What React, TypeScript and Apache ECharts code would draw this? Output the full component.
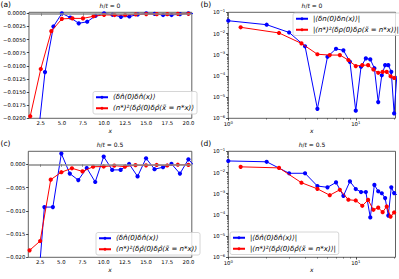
import React, { useEffect, useRef } from 'react';
import * as echarts from 'echarts';

// ---- data ----
const xSites = [1, 2, 3, 4, 5, 6, 7, 8, 9, 10, 11, 12, 13, 14, 15, 16, 17, 18, 19, 20, 21];
const xScaled = [1.25, 2.5, 3.75, 5, 6.25, 7.5, 8.75, 10, 11.25, 12.5, 13.75, 15, 16.25, 17.5, 18.75, 20];

// h/t = 0
const blueH0 = [-0.04, -0.026, -0.0112, -0.0025, -2.8e-6, -8e-4, -0.0019, -0.0016, -4.6e-4, -2.3e-6, -2.7e-4,
  -6.7e-4, -6.0e-4, -2.3e-4, -5.8e-6, -1.07e-4, -3.2e-4, -3.2e-4, -1.55e-4, -1.7e-6, -1.0e-4];
const redH0 = [-0.0196, -0.0106, -0.0034, -0.00105, -9.6e-4, -9.6e-4, -5.6e-4, -2.9e-4, -3.2e-4, -3.2e-4,
  -2.0e-4, -1.4e-4, -1.55e-4, -1.55e-4, -9.6e-5, -8e-5];

// h/t = 0.5
const blueH05 = [-0.035, -0.032, -0.0092, -0.0092, 0.0023, -0.002, -0.0034, -7.9e-4, -0.0038, 0.00166, -0.0012,
  -0.0012, 7.6e-5, -0.0026, 0.0013, -0.00105, -6.2e-4, 9.3e-5, -0.002, 0.00107, -0.0009];
const redH05 = [-0.0185, -0.0165, -0.0033, -0.0017, -8.5e-4, -0.00153, -5.2e-4, -4.8e-4, -2.7e-4, -5.1e-4,
  -1.74e-4, -2.2e-4, -1.35e-4, -2.5e-4, -8.3e-5, -1.3e-4];

// ticks
const linXTicks = [2.5, 5, 7.5, 10, 12.5, 15, 17.5, 20];
const yTicksA = [-0.02, -0.0175, -0.015, -0.0125, -0.01, -0.0075, -0.005, -0.0025, 0];
const yTicksC = [-0.02, -0.015, -0.01, -0.005, 0];
const logXTicks = [1, 10];
const logXMinor = [2, 3, 4, 5, 6, 7, 8, 9, 20];
const logYTicks = [1e-6, 1e-5, 1e-4, 1e-3, 1e-2, 1e-1];
const logYMinor: number[] = [];
for (let e = -6; e < -1; e++) for (let s = 2; s <= 9; s++) logYMinor.push(s * Math.pow(10, e));

const nameA1 = '⟨δn̂(0)δn̂(x)⟩';
const nameA2 = '(n*)²⟨δρ̂(0)δρ̂(x̃ = n*x)⟩';
const nameB1 = '|⟨δn(0)δn(x)⟩|';
const nameB2 = '|(n*)²⟨δρ(0)δρ(x̃ = n*x)⟩|';
const nameD1 = '|⟨δn̂(0)δn̂(x)⟩|';
const nameD2 = '|(n*)²⟨δρ̂(0)δρ̂(x̃ = n*x)⟩|';

const FONT = 'DejaVu Sans';
const BLUE = '#0000ff';
const RED = '#ff0000';
const TICK_FS = 5.3;

const GRIDS = [
  { left: 28.3, top: 12.3, width: 163.5, height: 106 },
  { left: 228.3, top: 12.3, width: 167.2, height: 106 },
  { left: 28.3, top: 151.3, width: 163.5, height: 106 },
  { left: 228.3, top: 151.3, width: 167.2, height: 106 },
];

const fmt = (v: number, d: number) => (v < -1e-12 ? '−' : '') + Math.abs(v).toFixed(d);
const pairs = (xs: number[], ys: number[], f: (v: number) => number = (v) => v) =>
  xs.map((x, i) => [x, f(ys[i])]);
const logLabel = (v: number) => {
  const e = Math.round(Math.log10(v));
  return '{b|10}{s|' + (e < 0 ? '−' : '') + Math.abs(e) + '}';
};
const logRich = {
  b: { fontSize: TICK_FS, fontFamily: FONT, color: '#000', lineHeight: 8 },
  s: { fontSize: 3.8, fontFamily: FONT, color: '#000', lineHeight: 4, verticalAlign: 'top' as const },
};

function linX(gridIndex: number) {
  return {
    type: 'value', gridIndex, min: 1.1, max: 20.4,
    name: 'x', nameLocation: 'middle', nameGap: 9,
    nameTextStyle: { fontSize: 6, fontStyle: 'italic', fontFamily: FONT, color: '#000' },
    axisLine: { show: false },
    splitLine: { show: false },
    axisTick: { show: true, length: 2.2, customValues: linXTicks, lineStyle: { color: '#000', width: 0.7 } },
    axisLabel: { customValues: linXTicks, formatter: (v: number) => v.toFixed(1), fontSize: TICK_FS, fontFamily: FONT, color: '#000', margin: 2.5 },
  };
}
function linY(gridIndex: number, min: number, max: number, ticks: number[], d: number) {
  return {
    type: 'value', gridIndex, min, max,
    axisLine: { show: false },
    splitLine: { show: false },
    axisTick: { show: true, length: 2.2, customValues: ticks, lineStyle: { color: '#000', width: 0.7 } },
    axisLabel: { customValues: ticks, formatter: (v: number) => fmt(v, d), fontSize: TICK_FS, fontFamily: FONT, color: '#000', margin: 3 },
  };
}
function logX(gridIndex: number, minor: boolean) {
  return {
    type: 'log', logBase: 10, gridIndex, min: 1, max: 20.5, position: 'bottom',
    name: minor ? '' : 'x', nameLocation: 'middle', nameGap: 9,
    nameTextStyle: { fontSize: 6, fontStyle: 'italic', fontFamily: FONT, color: '#000' },
    axisLine: { show: false },
    splitLine: { show: false },
    axisTick: { show: true, length: minor ? 1.3 : 2.2, customValues: minor ? logXMinor : logXTicks, lineStyle: { color: '#000', width: minor ? 0.5 : 0.7 } },
    axisLabel: minor ? { show: false } : { customValues: logXTicks, formatter: logLabel, rich: logRich, margin: 2 },
  };
}
function logY(gridIndex: number, minor: boolean) {
  return {
    type: 'log', logBase: 10, gridIndex, min: 1e-6, max: 1e-1, position: 'left',
    axisLine: { show: false },
    splitLine: { show: false },
    axisTick: { show: true, length: minor ? 1.3 : 2.2, customValues: minor ? logYMinor : logYTicks, lineStyle: { color: '#000', width: minor ? 0.5 : 0.7 } },
    axisLabel: minor ? { show: false } : { customValues: logYTicks, formatter: logLabel, rich: logRich, margin: 3 },
  };
}

function lineSeries(name: string, color: string, xi: number, yi: number, data: number[][], z: number, zeroLine = false) {
  const s: any = {
    type: 'line', name, xAxisIndex: xi, yAxisIndex: yi, data,
    symbol: 'circle', symbolSize: 4.2, showSymbol: true,
    lineStyle: { color, width: 1 }, itemStyle: { color },
    z, clip: true, animation: false,
  };
  if (zeroLine) {
    s.markLine = {
      silent: true, symbol: 'none', label: { show: false }, animation: false,
      lineStyle: { color: '#8c8c8c', width: 1.6, type: 'solid' },
      data: [{ yAxis: 0 }],
    };
  }
  return s;
}

function legendAt(left: number, top: number, names: string[]) {
  return {
    data: names, left, top, orient: 'vertical',
    itemWidth: 12, itemHeight: 3.6, itemGap: 3.5,
    padding: [2, 3, 2, 2],
    borderColor: '#cccccc', borderWidth: 0.8, borderRadius: 2,
    backgroundColor: 'rgba(255,255,255,0.8)',
    selectedMode: false,
    textStyle: { fontSize: 7, fontFamily: FONT, fontStyle: 'italic', color: '#000', lineHeight: 7.5 },
  };
}

function titleAt(text: string, left: number, top: number, size: number, center: boolean) {
  return {
    text, left, top, textAlign: center ? 'center' : 'left', padding: 0,
    textStyle: {
      fontSize: size, fontWeight: 'normal', fontFamily: FONT, color: '#000',
      rich: { i: { fontSize: size, fontStyle: 'italic', fontFamily: FONT, color: '#000' } },
    },
  };
}

export default function App() {
  const ref = useRef<HTMLDivElement>(null);
  useEffect(() => {
    if (!ref.current) return;
    const chart = echarts.init(ref.current, undefined, { renderer: 'svg' });
    const abs = (v: number) => Math.abs(v);
    chart.setOption({
      animation: false,
      backgroundColor: '#ffffff',
      title: [
        titleAt('(a)', 0.5, 0, 7.5, false),
        titleAt('(b)', 200.5, 0, 7.5, false),
        titleAt('(c)', 0.5, 139, 7.5, false),
        titleAt('(d)', 200.5, 139, 7.5, false),
        titleAt('{i|h}/{i|t} = 0', 110, 2.8, 6, true),
        titleAt('{i|h}/{i|t} = 0', 312, 2.8, 6, true),
        titleAt('{i|h}/{i|t} = 0.5', 110, 141.8, 6, true),
        titleAt('{i|h}/{i|t} = 0.5', 312, 141.8, 6, true),
      ],
      grid: GRIDS.map((g) => ({ ...g, show: true, borderColor: '#3a3a3a', borderWidth: 0.8, backgroundColor: 'transparent', containLabel: false })),
      xAxis: [linX(0), logX(1, false), linX(2), logX(3, false), logX(1, true), logX(3, true)],
      yAxis: [
        linY(0, -0.02, 0.0002, yTicksA, 4),
        logY(1, false),
        linY(2, -0.02, 0.0028, yTicksC, 3),
        logY(3, false),
        logY(1, true),
        logY(3, true),
      ],
      legend: [
        legendAt(93, 91.5, [nameA1, nameA2]),
        legendAt(293, 13, [nameB1, nameB2]),
        legendAt(96, 232.5, [nameA1, nameA2]),
        legendAt(230, 232, [nameD1, nameD2]),
      ],
      series: [
        lineSeries(nameA1, BLUE, 0, 0, pairs(xSites, blueH0), 2, true),
        lineSeries(nameA2, RED, 0, 0, pairs(xScaled, redH0), 3),
        lineSeries(nameB1, BLUE, 1, 1, pairs(xSites, blueH0, abs), 2),
        lineSeries(nameB2, RED, 1, 1, pairs(xScaled, redH0, abs), 3),
        lineSeries(nameA1, BLUE, 2, 2, pairs(xSites, blueH05), 2, true),
        lineSeries(nameA2, RED, 2, 2, pairs(xScaled, redH05), 3),
        lineSeries(nameD1, BLUE, 3, 3, pairs(xSites, blueH05, abs), 2),
        lineSeries(nameD2, RED, 3, 3, pairs(xScaled, redH05, abs), 3),
      ],
    });
    return () => chart.dispose();
  }, []);
  return (
    <div
      ref={ref}
      style={{ position: 'absolute', left: 0, top: 0, width: 399, height: 279, background: '#fff' }}
    />
  );
}
